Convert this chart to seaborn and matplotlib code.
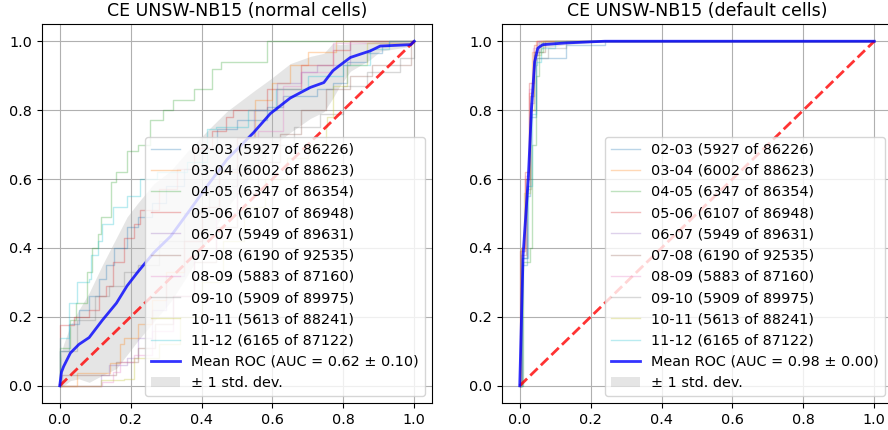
import numpy as np
import matplotlib
matplotlib.use("Agg")
import matplotlib.pyplot as plt
import seaborn as sns

# fold labels (same for both panels)
fold_names = ["02-03 (5927 of 86226)", "03-04 (6002 of 88623)", "04-05 (6347 of 86354)",
              "05-06 (6107 of 86948)", "06-07 (5949 of 89631)", "07-08 (6190 of 92535)",
              "08-09 (5883 of 87160)", "09-10 (5909 of 89975)", "10-11 (5613 of 88241)",
              "11-12 (6165 of 87122)"]

# ---- normal cells: per-fold ROC points (fpr, tpr)
normal_fpr = [
    [0, 0, .026, .054, .083, .11, .13, .153, .19, .22, .26, .30, .35, .40, .444, .50, .585, .63, .725, .77, .81, .867, .91, .93, 1],
    [0, .05, .125, .143, .17, .18, .22, .26, .30, .35, .40, .45, .50, .55, .60, .65, .70, .78, 1],
    [0, 0, .03, .045, .078, .092, .107, .116, .144, .16, .19, .22, .256, .29, .32, .378, .43, .454, .585, 1],
    [0, 0, .04, .083, .11, .13, .15, .18, .21, .227, .28, .33, .38, .43, .47, .49, .585, .68, .77, .82, 1],
    [0, .115, .14, .19, .22, .26, .30, .35, .40, .45, .50, .547, .613, .68, .725, .82, 1],
    [0, .005, .16, .17, .22, .27, .32, .38, .44, .50, .56, .62, .68, .75, .82, .88, .97, .99, 1],
    [0, .12, .15, .17, .21, .26, .32, .38, .44, .50, .56, .63, .68, .77, 1],
    [0, 0, .05, .10, .14, .18, .22, .28, .35, .42, .50, .58, .66, .735, .80, .867, .96, 1],
    [0, .115, .18, .21, .28, .34, .40, .46, .52, .58, .64, .70, .75, .755, .77, .81, .867, 1],
    [0, 0, .026, .05, .083, .087, .107, .12, .15, .19, .227, .275, .36, .416, .44, .53, .61, .70, .80, .876, .93, 1],
]
normal_tpr = [
    [0, .10, .18, .22, .26, .31, .35, .40, .46, .49, .53, .58, .63, .69, .744, .77, .81, .84, .86, .88, .94, .966, .985, 1, 1],
    [0, .037, .037, .066, .12, .14, .18, .25, .33, .42, .52, .62, .72, .83, .88, .93, .97, 1, 1],
    [0, .11, .19, .24, .33, .40, .44, .49, .59, .62, .68, .70, .77, .80, .83, .86, .92, .94, 1, 1],
    [0, .177, .20, .22, .26, .29, .36, .43, .47, .51, .57, .63, .69, .74, .78, .80, .86, .93, .975, 1, 1],
    [0, .03, .06, .08, .14, .22, .32, .42, .52, .63, .72, .80, .88, .91, .93, 1, 1],
    [0, .03, .07, .07, .11, .18, .26, .36, .46, .56, .65, .73, .80, .86, .90, .93, .93, 1, 1],
    [0, .01, .04, .07, .09, .16, .26, .38, .50, .62, .74, .87, .91, .995, 1],
    [0, .10, .19, .26, .29, .33, .35, .42, .50, .58, .64, .70, .75, .79, .87, .91, .95, 1],
    [0, .017, .02, .08, .12, .20, .30, .42, .52, .60, .66, .70, .75, .78, .87, .93, .995, 1],
    [0, .14, .24, .30, .31, .38, .42, .47, .52, .55, .60, .62, .65, .744, .75, .80, .86, .90, .93, .976, 1, 1],
]
normal_mean_fpr = [0, .005, .011, .03, .054, .083, .12, .16, .19, .22, .265, .313, .36, .416, .472,
                   .547, .594, .65, .707, .745, .77, .79, .82, .876, .904, .99, 1.0]
normal_mean_tpr = [0, .04, .056, .095, .12, .14, .19, .24, .29, .33, .386, .434, .50, .58, .657,
                   .735, .79, .835, .866, .88, .914, .93, .953, .972, .986, .99, 1.0]
normal_std_tpr = [.06, .06, .065, .08, .10, .13, .16, .19, .20, .20, .20, .19, .18, .16, .14,
                  .12, .10, .10, .09, .085, .08, .06, .04, .025, .015, .005, 0]
normal_auc = "0.62 ± 0.10"

# ---- default cells
default_fpr = [
    [0, .005, .02, .03, .045, .05, .13, .24, 1],
    [0, .003, .015, .025, .035, .045, 1],
    [0, .008, .03, .035, .045, .055, .065, 1],
    [0, .002, .015, .025, .04, .05, 1],
    [0, .005, .02, .03, .04, .055, 1],
    [0, .004, .018, .028, .04, .07, 1],
    [0, .003, .016, .026, .038, .05, 1],
    [0, .006, .02, .032, .045, .08, .13, 1],
    [0, .004, .012, .028, .04, .06, 1],
    [0, .006, .022, .034, .046, .06, .10, 1],
]
default_tpr = [
    [0, .35, .55, .78, .93, .95, .99, 1, 1],
    [0, .40, .60, .85, .97, 1, 1],
    [0, .36, .40, .70, .90, .97, 1, 1],
    [0, .39, .62, .88, .99, 1, 1],
    [0, .37, .58, .82, .96, 1, 1],
    [0, .38, .60, .84, .97, 1, 1],
    [0, .40, .61, .86, .98, 1, 1],
    [0, .37, .57, .80, .95, .98, 1, 1],
    [0, .40, .56, .80, .96, 1, 1],
    [0, .37, .58, .79, .94, .98, 1, 1],
]
default_mean_fpr = [0, .0095, .024, .033, .042, .051, .065, .13, .24, 1.0]
default_mean_tpr = [0, .38, .60, .80, .94, .98, .99, .995, 1.0, 1.0]
default_std_tpr = [0, .01, .03, .04, .03, .02, .01, .005, 0, 0]
default_auc = "0.98 ± 0.00"

plt.rcParams['font.size'] = 10.4

fig = plt.figure(figsize=(8.88, 4.3), dpi=100)
ax1 = fig.add_axes([42 / 888, 27 / 430, 390 / 888, 379 / 430])
ax2 = fig.add_axes([502 / 888, 27 / 430, 390 / 888, 379 / 430])

palette = sns.color_palette("tab10", 10)

panels = [
    (ax1, "CE UNSW-NB15 (normal cells)", normal_fpr, normal_tpr, normal_mean_fpr, normal_mean_tpr, normal_std_tpr, normal_auc),
    (ax2, "CE UNSW-NB15 (default cells)", default_fpr, default_tpr, default_mean_fpr, default_mean_tpr, default_std_tpr, default_auc),
]

for ax, title, fprs, tprs, mfpr, mtpr, mstd, auc in panels:
    for i in range(len(fold_names)):
        sns.lineplot(x=np.array(fprs[i]), y=np.array(tprs[i]), ax=ax, estimator=None, sort=False,
                     drawstyle='steps-post', color=palette[i], lw=1, alpha=0.3,
                     label=fold_names[i], legend=False)
    ax.plot([0, 1], [0, 1], linestyle='--', lw=2, color='r', alpha=0.8)
    mfpr = np.array(mfpr)
    mtpr = np.array(mtpr)
    mstd = np.array(mstd)
    sns.lineplot(x=mfpr, y=mtpr, ax=ax, estimator=None, sort=False, color='b', lw=2, alpha=0.8,
                 label="Mean ROC (AUC = " + auc + ")", legend=False)
    ax.fill_between(mfpr, np.maximum(mtpr - mstd, 0), np.minimum(mtpr + mstd, 1),
                    color='grey', alpha=0.2, lw=0, label="± 1 std. dev.")
    ax.set_xlim(-0.05, 1.05)
    ax.set_ylim(-0.05, 1.05)
    ax.set_xticks([0, .2, .4, .6, .8, 1.0])
    ax.set_yticks([0, .2, .4, .6, .8, 1.0])
    ax.set_xlabel('')
    ax.set_ylabel('')
    ax.grid(True)
    ax.set_title(title, fontsize=12.5)
    ax.legend(loc='lower right')

plt.savefig('out.png', dpi=100)
